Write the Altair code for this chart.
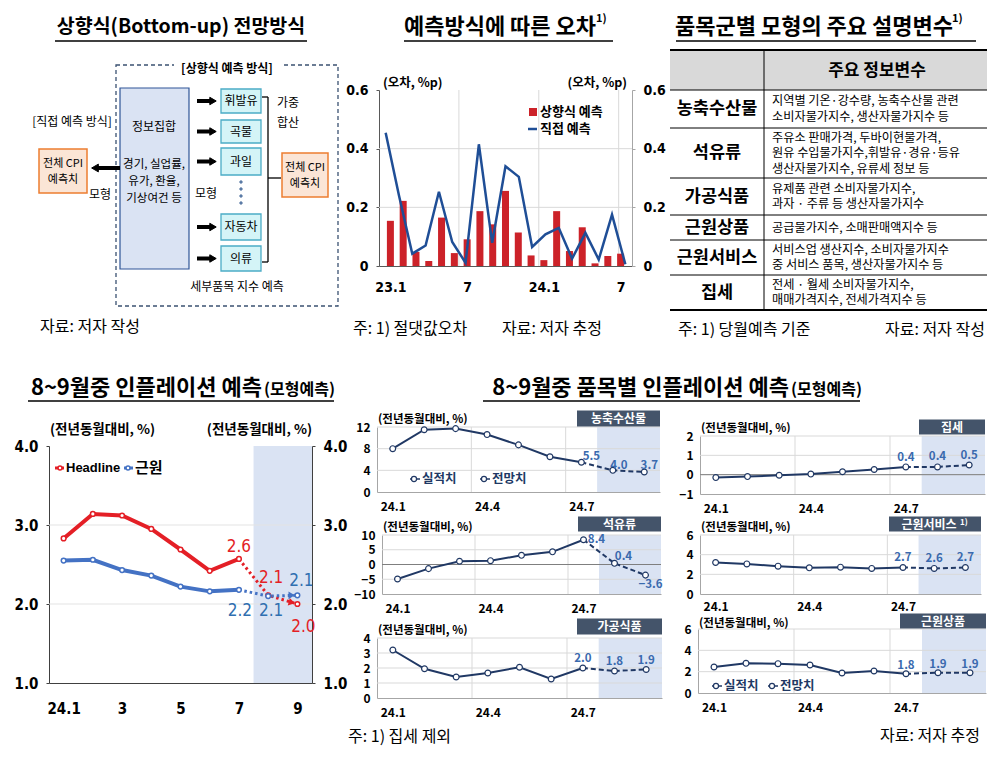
import altair as alt
import pandas as pd

W, H = 979, 745


def X(v):
    return v - 8


def Y(v):
    return v - 8


KR = "Noto Sans CJK KR"
NUM = "Liberation Sans Narrow, DejaVu Sans Condensed, Noto Sans CJK KR"
LAT = "Liberation Sans, Noto Sans CJK KR"

RED_BAR = "#cc2229"
BLUE_LINE = "#1f4e96"
RED = "#e41f26"
BLUE = "#4472c4"
NAVY = "#203864"
LBL = "#3a6aae"
SHADE = "#dae3f3"
GRID = "#d9d9d9"
BOXC = "#44546a"

# ---------------- data ----------------
bar_idx = list(range(1, 20))
bar_bottomup = [0.154, 0.222, 0.048, 0.017, 0.165, 0.044, 0.091, 0.187, 0.142, 0.256,
                0.114, 0.036, 0.020, 0.187, 0.051, 0.132, 0.009, 0.034, 0.042]
bar_direct = [0.454, 0.240, 0.042, 0.070, 0.253, 0.082, 0.011, 0.415, 0.079, 0.340,
              0.304, 0.065, 0.108, 0.130, 0.025, 0.113, 0.022, 0.175, 0.006]
bar_tick_vals = [1, 7, 13, 19]
bar_tick_labels = ["23.1", "7", "24.1", "7"]
bar_y_ticks = [0, 0.2, 0.4, 0.6]

infl_idx = list(range(1, 10))
infl_headline = [2.83, 3.14, 3.12, 2.95, 2.69, 2.42, 2.57, 2.11, 2.0]
infl_core = [2.55, 2.56, 2.43, 2.36, 2.22, 2.16, 2.18, 2.10, 2.11]
infl_tick_vals = [1, 3, 5, 7, 9]
infl_tick_labels = ["24.1", "3", "5", "7", "9"]
infl_y_ticks = [1.0, 2.0, 3.0, 4.0]

sm_idx = list(range(1, 10))
sm_tick_vals = [1, 4, 7]
sm_tick_labels = ["24.1", "24.4", "24.7"]
agri = [8.0, 11.5, 11.7, 10.6, 8.7, 6.5, 5.5, 4.0, 3.7]
rent = [-0.15, -0.1, -0.03, 0.03, 0.15, 0.27, 0.4, 0.4, 0.5]
oil = [-4.9, -1.4, 1.1, 1.3, 3.1, 4.3, 8.4, 0.4, -3.6]
core_serv = [3.2, 3.06, 2.83, 2.66, 2.73, 2.6, 2.7, 2.6, 2.7]
proc_food = [3.2, 1.95, 1.4, 1.67, 2.05, 1.27, 2.0, 1.8, 1.9]
core_goods = [2.44, 2.78, 2.75, 2.63, 1.88, 2.06, 1.8, 1.9, 1.9]

table_rows = ["농축수산물", "석유류", "가공식품", "근원상품", "근원서비스", "집세"]
table_text = [
    ["지역별 기온·강수량, 농축수산물 관련", "소비자물가지수, 생산자물가지수 등"],
    ["주유소 판매가격, 두바이현물가격,", "원유 수입물가지수,휘발유·경유·등유", "생산자물가지수, 유류세 정보 등"],
    ["유제품 관련 소비자물가지수,", "과자 · 주류 등 생산자물가지수"],
    ["공급물가지수, 소매판매액지수 등"],
    ["서비스업 생산지수, 소비자물가지수", "중 서비스 품목, 생산자물가지수 등"],
    ["전세 · 월세 소비자물가지수,", "매매가격지수, 전세가격지수 등"],
]
cyan_items = ["휘발유", "곡물", "과일", "자동차", "의류"]

# ---------------- helpers ----------------
layers = []
ONE = pd.DataFrame({"k": [0]})


def add(c):
    layers.append(c)


def txt(s, x, y, size=13, weight="normal", color="#000000", align="left", font=KR, baseline="middle"):
    add(alt.Chart(ONE).mark_text(text=s, fontSize=size, fontWeight=weight, color=color, align=align,
                                 baseline=baseline, font=font)
        .encode(x=alt.value(X(x)), y=alt.value(Y(y))))


def rect(x0, y0, x1, y1, fill="transparent", stroke="transparent", sw=1, dash=None):
    kw = dict(fill=fill, stroke=stroke, strokeWidth=sw)
    if dash:
        kw["strokeDash"] = dash
    add(alt.Chart(ONE).mark_rect(**kw).encode(x=alt.value(X(x0)), x2=alt.value(X(x1)),
                                               y=alt.value(Y(y0)), y2=alt.value(Y(y1))))


def seg(x0, y0, x1, y1, color="#000000", sw=1, dash=None):
    kw = dict(color=color, strokeWidth=sw)
    if dash:
        kw["strokeDash"] = dash
    add(alt.Chart(ONE).mark_rule(**kw).encode(x=alt.value(X(x0)), x2=alt.value(X(x1)),
                                               y=alt.value(Y(y0)), y2=alt.value(Y(y1))))


def sym(x, y, shape="circle", size=30, fill="#ffffff", stroke="#000000", sw=1):
    add(alt.Chart(ONE).mark_point(shape=shape, size=size, fill=fill, stroke=stroke, strokeWidth=sw,
                                  filled=True, opacity=1)
        .encode(x=alt.value(X(x)), y=alt.value(Y(y))))


def sx(domain, a, b):
    return alt.Scale(domain=domain, range=[X(a), X(b)], nice=False, zero=False)


def sy(domain, bottom, top):
    return alt.Scale(domain=domain, range=[Y(bottom), Y(top)], nice=False, zero=False)


def lexpr(vals, labels):
    s = "''"
    for v, l in reversed(list(zip(vals, labels))):
        s = f"datum.value == {v} ? '{l}' : {s}"
    return s


def mk_axis(orient, offset, values, expr=None, fmt=None, size=12, font=KR, weight="bold", pad=4,
            dcolor="#7f7f7f", ticks=False, tsize=4, domain=True):
    kw = dict(orient=orient, offset=offset, values=values, grid=False, title=None, labelFont=font,
              labelFontSize=size, labelFontWeight=weight, labelColor="#000000", labelPadding=pad,
              domain=domain, domainColor=dcolor, ticks=ticks, labelOverlap=False, labelFlush=False)
    if ticks:
        kw.update(tickSize=tsize, tickColor=dcolor)
    if expr:
        kw["labelExpr"] = expr
    if fmt:
        kw["format"] = fmt
    return alt.Axis(**kw)


# ================= TOP-LEFT: diagram =================
txt("상향식(Bottom-up) 전망방식", 181, 27, 19.5, "bold", align="center")
seg(55, 41, 307, 41, "#000000", 1.3)
rect(116, 65, 338, 306, stroke="#3b5272", sw=1.3, dash=[4, 3])
rect(174, 61, 281, 77, fill="#ffffff")
txt("[상향식 예측 방식]", 227, 69, 12, "bold", align="center")
rect(120, 88, 189, 269, fill="#dae3f3", stroke="#2f5597", sw=1.2)
txt("정보집합", 154, 127, 12, align="center")
for s, yy in zip(["경기, 실업률,", "유가, 환율,", "기상여건 등"], [165, 182, 199]):
    txt(s, 154, yy, 11.5, align="center")
txt("[직접 예측 방식]", 72, 122, 12, align="center")
rect(39, 149, 87, 193, fill="#fbe5d6", stroke="#ed7d31", sw=1.5)
txt("전체 CPI", 63, 164, 11, align="center")
txt("예측치", 63, 180, 11, align="center")
seg(98, 168, 120, 168, "#000000", 4)
sym(95, 168, "triangle-left", 60, "#000000", "#000000")
txt("모형", 100, 195, 12, align="center")
cyan_boxes = [(89, 113), (120, 143), (148, 175), (214, 240), (246, 271)]
for name, (y0, y1) in zip(cyan_items, cyan_boxes):
    rect(221, y0, 261, y1, fill="#d4f4f7", stroke="#4bacc6", sw=1.3)
    txt(name, 241, (y0 + y1) / 2, 12, align="center")
    ym = (y0 + y1) / 2
    seg(197, ym, 210, ym, "#000000", 4)
    sym(213, ym, "triangle-right", 55, "#000000", "#000000")
for yy in [182, 189, 196, 203]:
    sym(241, yy, "circle", 6, "#5b7ba6", "#5b7ba6")
txt("모형", 206, 194, 12, align="center")
seg(262, 97, 268, 97, "#000000", 1.3)
seg(268, 97, 268, 262, "#000000", 1.3)
seg(262, 262, 268, 262, "#000000", 1.3)
seg(268, 178, 281, 178, "#000000", 1.3)
txt("가중", 288, 103, 12, align="center")
txt("합산", 288, 123, 12, align="center")
rect(282, 153, 328, 197, fill="#fbe5d6", stroke="#ed7d31", sw=1.5)
txt("전체 CPI", 305, 168, 11, align="center")
txt("예측치", 305, 184, 11, align="center")
txt("세부품목 지수 예측", 237, 287, 12, align="center")
txt("자료: 저자 작성", 40, 327, 16)

# ================= TOP-MIDDLE: bar + line =================
txt("예측방식에 따른 오차", 500, 27, 22, "bold", align="center")
txt("1)", 596, 19, 11, "bold")
seg(404, 41, 613, 41, "#000000", 1.3)
bdf = pd.DataFrame({"i": bar_idx, "bu": bar_bottomup, "dir": bar_direct})
bxs = sx([0.5, 19.5], 379, 632)
bys = sy([0, 0.6], 266, 90)
add(alt.Chart(pd.DataFrame({"v": [0.2, 0.4]})).mark_rule(color=GRID, strokeWidth=1)
    .encode(y=alt.Y("v:Q", scale=bys, axis=None), x=alt.value(X(379)), x2=alt.value(X(632))))
add(alt.Chart(pd.DataFrame({"v": [6.5, 12.5, 18.5]})).mark_rule(color=GRID, strokeWidth=1)
    .encode(x=alt.X("v:Q", scale=bxs, axis=None), y=alt.value(Y(90)), y2=alt.value(Y(266))))
ylab_bar = "datum.value == 0 ? '0' : format(datum.value, '.1f')"
add(alt.Chart(bdf).mark_bar(size=7, color=RED_BAR)
    .encode(x=alt.X("i:Q", scale=bxs,
                    axis=mk_axis("bottom", Y(266) - H, bar_tick_vals, lexpr(bar_tick_vals, bar_tick_labels),
                                 size=14, font=NUM, pad=14, dcolor="#595959")),
            y=alt.Y("bu:Q", scale=bys,
                    axis=mk_axis("left", -X(379), bar_y_ticks, ylab_bar, size=14, font=NUM, pad=8,
                                 dcolor="#595959", ticks=True, tsize=3)),
            y2=alt.datum(0)))
add(alt.Chart(bdf).mark_line(color=BLUE_LINE, strokeWidth=2.5)
    .encode(x=alt.X("i:Q", scale=bxs, axis=None),
            y=alt.Y("dir:Q", scale=bys,
                    axis=mk_axis("right", X(632) - W, bar_y_ticks, ylab_bar, size=14, font=NUM, pad=8,
                                 dcolor="#a6a6a6", ticks=True, tsize=3))))
txt("(오차, %p)", 383, 83, 12.5, "bold")
txt("(오차, %p)", 627, 83, 12.5, "bold", align="right")
rect(529, 108, 537, 116, fill=RED_BAR)
txt("상향식 예측", 540, 112, 13, "bold")
seg(528, 129, 537, 129, BLUE_LINE, 2.5)
txt("직접 예측", 540, 129, 13, "bold")
txt("주: 1) 절댓값오차", 353, 329, 16)
txt("자료: 저자 추정", 502, 329, 16)

# ================= TOP-RIGHT: table =================
txt("품목군별 모형의 주요 설명변수", 814, 27, 22, "bold", align="center")
txt("1)", 952, 19, 11, "bold")
seg(676, 41, 976, 41, "#000000", 1.3)
rect(670, 50, 990, 90, fill="#d9d9d9")
seg(670, 50, 990, 50, "#000000", 2)
seg(670, 90, 990, 90, "#000000", 1.2)
row_b = [90, 128, 178, 215, 240, 275, 310]
for yb in row_b[1:-1]:
    seg(670, yb, 990, yb, "#000000", 1)
seg(670, 310, 990, 310, "#000000", 2)
seg(764, 50, 764, 310, "#000000", 1)
txt("주요 정보변수", 877, 71, 17, "bold", align="center")
for k, (name, lines) in enumerate(zip(table_rows, table_text)):
    mid = (row_b[k] + row_b[k + 1]) / 2
    txt(name, 717, mid, 17.5, "bold", align="center")
    n = len(lines)
    for j, line in enumerate(lines):
        txt(line, 772, mid + (j - (n - 1) / 2) * 15.5, 12.2)
txt("주: 1) 당월예측 기준", 678, 330, 16)
txt("자료: 저자 작성", 985, 330, 16, align="right")

# ================= BOTTOM-LEFT: inflation forecast =================
txt("8~9월중 인플레이션 예측", 262, 388, 22, "bold", align="right")
txt("(모형예측)", 264, 390, 16, "bold")
seg(28, 401, 334, 401, "#000000", 1.3)
idf = pd.DataFrame({"i": infl_idx, "h": infl_headline, "c": infl_core})
ixs = sx([0.5, 9.5], 49, 312)
iys = sy([1.0, 4.0], 683, 446)
add(alt.Chart(pd.DataFrame({"a": [7.5], "b": [9.5]})).mark_rect(color=SHADE)
    .encode(x=alt.X("a:Q", scale=ixs, axis=None), x2="b:Q", y=alt.value(Y(446)), y2=alt.value(Y(683))))
add(alt.Chart(pd.DataFrame({"v": [2.0, 3.0]})).mark_rule(color="#e3e3e3", strokeWidth=1)
    .encode(y=alt.Y("v:Q", scale=iys, axis=None), x=alt.value(X(49)), x2=alt.value(X(312))))
txt("(전년동월대비, %)", 50, 430, 13.5, "bold")
txt("(전년동월대비, %)", 312, 430, 13.5, "bold", align="right")
for col, color in [("h", RED), ("c", BLUE)]:
    add(alt.Chart(idf).transform_filter("datum.i <= 7").mark_line(color=color, strokeWidth=4)
        .encode(x=alt.X("i:Q", scale=ixs, axis=None), y=alt.Y(f"{col}:Q", scale=iys, axis=None)))
    add(alt.Chart(idf).transform_filter("datum.i >= 7").mark_line(color=color, strokeWidth=3, strokeDash=[2.5, 3])
        .encode(x=alt.X("i:Q", scale=ixs, axis=None), y=alt.Y(f"{col}:Q", scale=iys, axis=None)))
arrow = "M -0.5 0 L -1.7 -0.75 L -1.7 0.75 Z"
for col, color, ang in [("h", RED, 15), ("c", BLUE, 0)]:
    add(alt.Chart(idf).transform_filter("datum.i == 9")
        .mark_point(shape=arrow, size=110, filled=True, color=color, opacity=1, angle=ang)
        .encode(x=alt.X("i:Q", scale=ixs, axis=None), y=alt.Y(f"{col}:Q", scale=iys, axis=None)))
add(alt.Chart(idf).mark_point(filled=True, fill="#ffffff", stroke=RED, strokeWidth=1.5, size=22, opacity=1)
    .encode(x=alt.X("i:Q", scale=ixs,
                    axis=mk_axis("bottom", Y(683) - H, infl_tick_vals, lexpr(infl_tick_vals, infl_tick_labels),
                                 size=15, font=NUM, pad=18, dcolor="#404040")),
            y=alt.Y("h:Q", scale=iys,
                    axis=mk_axis("left", -X(49), infl_y_ticks, fmt=".1f", size=15, font=NUM, pad=8,
                                 dcolor="#404040", ticks=True, tsize=3))))
add(alt.Chart(idf).mark_point(filled=True, fill="#ffffff", stroke=BLUE, strokeWidth=1.5, size=22, opacity=1)
    .encode(x=alt.X("i:Q", scale=ixs, axis=None),
            y=alt.Y("c:Q", scale=iys,
                    axis=mk_axis("right", X(312) - W, infl_y_ticks, fmt=".1f", size=15, font=NUM, pad=8,
                                 dcolor="#404040", ticks=True, tsize=3))))
infl_label_style = [("h", 7, RED, 0, -12), ("h", 8, RED, 3, -17), ("h", 9, RED, 6, 23),
                    ("c", 7, "#2f6fb0", 1, 21), ("c", 8, "#2f6fb0", 3, 15), ("c", 9, "#2f6fb0", 4, -14)]
for col, k, color, ddx, ddy in infl_label_style:
    add(alt.Chart(idf).transform_filter(f"datum.i == {k}")
        .mark_text(dx=ddx, dy=ddy, fontSize=17, font=NUM, color=color, align="center", baseline="middle")
        .encode(x=alt.X("i:Q", scale=ixs, axis=None), y=alt.Y(f"{col}:Q", scale=iys, axis=None),
                text=alt.Text(f"{col}:Q", format=".1f")))
seg(55, 468, 64, 468, RED, 3)
sym(60, 468, "circle", 16, "#ffffff", RED, 1.5)
txt("Headline", 66, 468, 13, "bold", font=LAT)
seg(124, 468, 133, 468, BLUE, 3)
sym(128, 468, "circle", 16, "#ffffff", BLUE, 1.5)
txt("근원", 135, 468, 15, "bold")

# ================= BOTTOM-RIGHT: small multiples =================
txt("8~9월중 품목별 인플레이션 예측", 789, 388, 22, "bold", align="right")
txt("(모형예측)", 791, 390, 16, "bold")
seg(483, 401, 860, 401, "#000000", 1.3)


def small_panel(name, values, x0, x1, ytop, ybot, dom, ticks, box, offs, legend=None, sup=False,
                title_gap=7, xpad=9):
    df = pd.DataFrame({"i": sm_idx, "v": values})
    xs = sx([0.5, 9.5], x0, x1)
    ys = sy(dom, ybot, ytop)
    add(alt.Chart(pd.DataFrame({"a": [7.5], "b": [9.5]})).mark_rect(color=SHADE)
        .encode(x=alt.X("a:Q", scale=xs, axis=None), x2="b:Q", y=alt.value(Y(ytop)), y2=alt.value(Y(ybot))))
    add(alt.Chart(pd.DataFrame({"v": [t for t in ticks if t != dom[0]]})).mark_rule(color=GRID, strokeWidth=1)
        .encode(y=alt.Y("v:Q", scale=ys, axis=None), x=alt.value(X(x0)), x2=alt.value(X(x1))))
    add(alt.Chart(pd.DataFrame({"v": [3.5, 6.5]})).mark_rule(color=GRID, strokeWidth=1)
        .encode(x=alt.X("v:Q", scale=xs, axis=None), y=alt.value(Y(ytop)), y2=alt.value(Y(ybot))))
    if dom[0] < 0:
        add(alt.Chart(pd.DataFrame({"v": [0]})).mark_rule(color="#7f7f7f", strokeWidth=1)
            .encode(y=alt.Y("v:Q", scale=ys, axis=None), x=alt.value(X(x0)), x2=alt.value(X(x1))))
    add(alt.Chart(df).transform_filter("datum.i <= 7").mark_line(color=NAVY, strokeWidth=2)
        .encode(x=alt.X("i:Q", scale=xs, axis=None),
                y=alt.Y("v:Q", scale=ys,
                        axis=mk_axis("left", -X(x0), ticks, size=12, pad=7, dcolor="#a6a6a6"))))
    add(alt.Chart(df).transform_filter("datum.i >= 7").mark_line(color=NAVY, strokeWidth=2, strokeDash=[5, 3])
        .encode(x=alt.X("i:Q", scale=xs, axis=None), y=alt.Y("v:Q", scale=ys, axis=None)))
    add(alt.Chart(df).mark_point(filled=True, fill="#ffffff", stroke=NAVY, strokeWidth=1.2, size=34, opacity=1)
        .encode(x=alt.X("i:Q", scale=xs,
                        axis=mk_axis("bottom", Y(ybot) - H, sm_tick_vals, lexpr(sm_tick_vals, sm_tick_labels),
                                     size=12, pad=xpad, dcolor="#a6a6a6")),
                y=alt.Y("v:Q", scale=ys, axis=None)))
    for k, (ddx, ddy) in zip([7, 8, 9], offs):
        add(alt.Chart(df).transform_filter(f"datum.i == {k}")
            .mark_text(dx=ddx, dy=ddy, fontSize=11.5, fontWeight="bold", font=KR, color=LBL,
                       align="center", baseline="middle")
            .encode(x=alt.X("i:Q", scale=xs, axis=None), y=alt.Y("v:Q", scale=ys, axis=None),
                    text=alt.Text("v:Q", format=".1f")))
    bx0, by0, bx1, by1 = box
    rect(bx0, by0 - 1.5, bx1, by1 + 1.5, fill=BOXC)
    cy = (by0 + by1) / 2 + 0.5
    if sup:
        txt(name, (bx0 + bx1) / 2 - 6, cy, 12, "bold", "#ffffff", "center")
        txt("1)", (bx0 + bx1) / 2 + 25, cy - 2, 8, "bold", "#ffffff")
    else:
        txt(name, (bx0 + bx1) / 2, cy, 12, "bold", "#ffffff", "center")
    txt("(전년동월대비, %)", x0 + 1, ytop - title_gap, 11.5, "bold")
    if legend:
        ly, lx1, lx2 = legend
        for lx, lab in [(lx1, "실적치"), (lx2, "전망치")]:
            seg(lx, ly, lx + 10, ly, NAVY, 1.5)
            sym(lx + 4, ly, "circle", 26, "#ffffff", NAVY, 1.2)
            txt(lab, lx + 12, ly, 12.5, "bold", NAVY)


small_panel("농축수산물", agri, 377, 660, 427, 492, [0, 12], [0, 4, 8, 12], (577, 412, 660, 425),
            [(10, -5), (6, -4), (5, -6)], legend=(479, 410, 480))
small_panel("집세", rent, 700, 985, 436, 494, [-1, 2], [-1, 0, 1, 2], (919, 421, 985, 433),
            [(0, -9), (0, -10), (0, -9)])
small_panel("석유류", oil, 382, 661, 535, 594, [-10, 10], [-10, -5, 0, 5, 10], (578, 518, 661, 530),
            [(13, 0), (9, -6), (5, 10)])
small_panel("근원서비스", core_serv, 700, 981, 535, 594, [0, 6], [0, 2, 4, 6], (889, 518, 981, 530),
            [(0, -9), (0, -9), (0, -9)], sup=True, xpad=7)
small_panel("가공식품", proc_food, 377, 662, 638, 698, [0, 4], [0, 1, 2, 3, 4], (577, 620, 662, 633),
            [(0, -9), (0, -9), (0, -9)])
small_panel("근원상품", core_goods, 698, 986, 629, 693, [0, 6], [0, 2, 4, 6], (900, 615, 986, 627),
            [(0, -8), (0, -8), (0, -8)], legend=(686, 712, 768), title_gap=5)
txt("주: 1) 집세 제외", 348, 737, 16)
txt("자료: 저자 추정", 980, 736, 16, align="right")

chart = (alt.layer(*layers)
         .resolve_scale(x="independent", y="independent")
         .properties(width=W, height=H, padding=0, autosize=alt.AutoSizeParams(type="none"),
                     background="#ffffff")
         .configure_view(strokeWidth=0))

chart.save("out.html", embed_options={"renderer": "svg", "actions": False})
